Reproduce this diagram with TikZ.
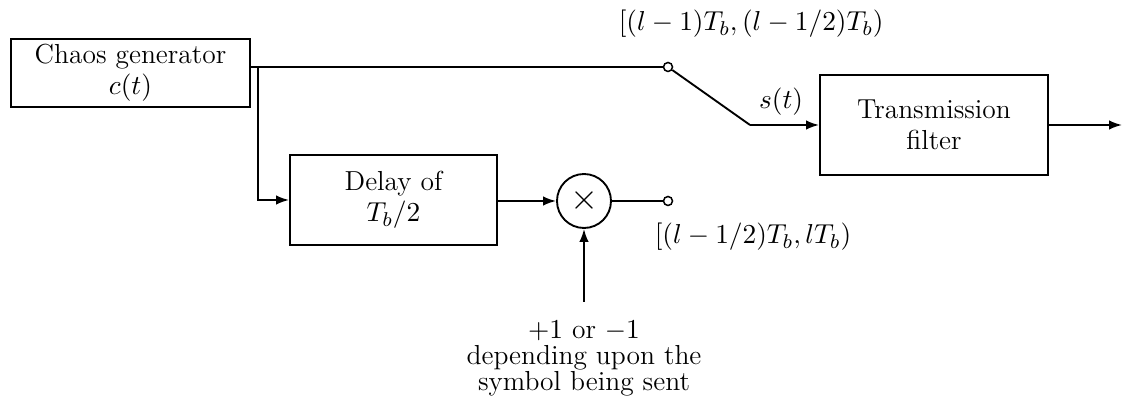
\documentclass[tikz,border=0pt]{standalone}
\usepackage{amsmath}
\usepackage{tikz}
\usetikzlibrary{arrows.meta,positioning,calc}
\tikzset{
  txt/.style={font=\fontsize{11}{12.4}\selectfont},
  blk/.style={txt,draw,line width=0.75pt,align=center,inner sep=2pt},
  mixer/.style={circle,draw,line width=0.75pt,minimum size=21.6pt,inner sep=0pt},
  tap/.style={circle,draw,line width=0.6pt,fill=white,minimum size=3.6pt,inner sep=0pt},
  wire/.style={line width=0.75pt},
  sig/.style={wire,-{Latex[length=5.2pt,width=3.8pt]}},
}
\begin{document}
\begin{tikzpicture}[x=0.4pt,y=-0.4pt]
  \useasboundingbox (0,0) rectangle (1127,404);

  % blocks
  \node[blk,minimum width=95.6pt,minimum height=26.4pt] (gen) at (130.5,73)
    {Chaos generator\\$c(t)$};
  \node[blk,minimum width=82.8pt,minimum height=36pt] (delay) at (393.5,200)
    {Delay of\\$T_b/2$};
  \node[mixer] (mult) at (584,201) {\Large$\times$};
  \node[blk,minimum width=91.2pt,minimum height=40pt] (filt) at (934,125)
    {Transmission\\filter};

  % switch contacts
  \node[tap] (sw1) at (668,67) {};
  \node[tap] (sw2) at (668,201) {};
  \coordinate (split) at (258,67);
  \coordinate (knee) at (750,125);
  \coordinate (out) at (1122,125);
  \coordinate (sym) at (584,302);

  % labels
  \node[txt,anchor=west] (lab1) at (610,24) {$[(l-1)T_b,(l-1/2)T_b)$};
  \node[txt,anchor=west] (lab2) at (646,237) {$[(l-1/2)T_b,lT_b)$};
  \node[below=4pt of sym,align=center,font=\fontsize{11}{10.5}\selectfont] (bits)
    {$+1$ or $-1$\\depending upon the\\symbol being sent};

  % connections
  \draw[wire] (gen.east |- split) -- (sw1);
  \draw[sig] (split) |- (delay.west);
  \draw[sig] (delay.east |- mult) -- (mult);
  \draw[wire] (mult) -- (sw2);
  \draw[sig] (sym) -- (mult);
  \draw[wire] (sw1) -- (knee);
  \draw[sig] (knee) -- node[txt,above,pos=0.45] {$s(t)$} (filt);
  \draw[sig] (filt) -- (out);
\end{tikzpicture}
\end{document}
